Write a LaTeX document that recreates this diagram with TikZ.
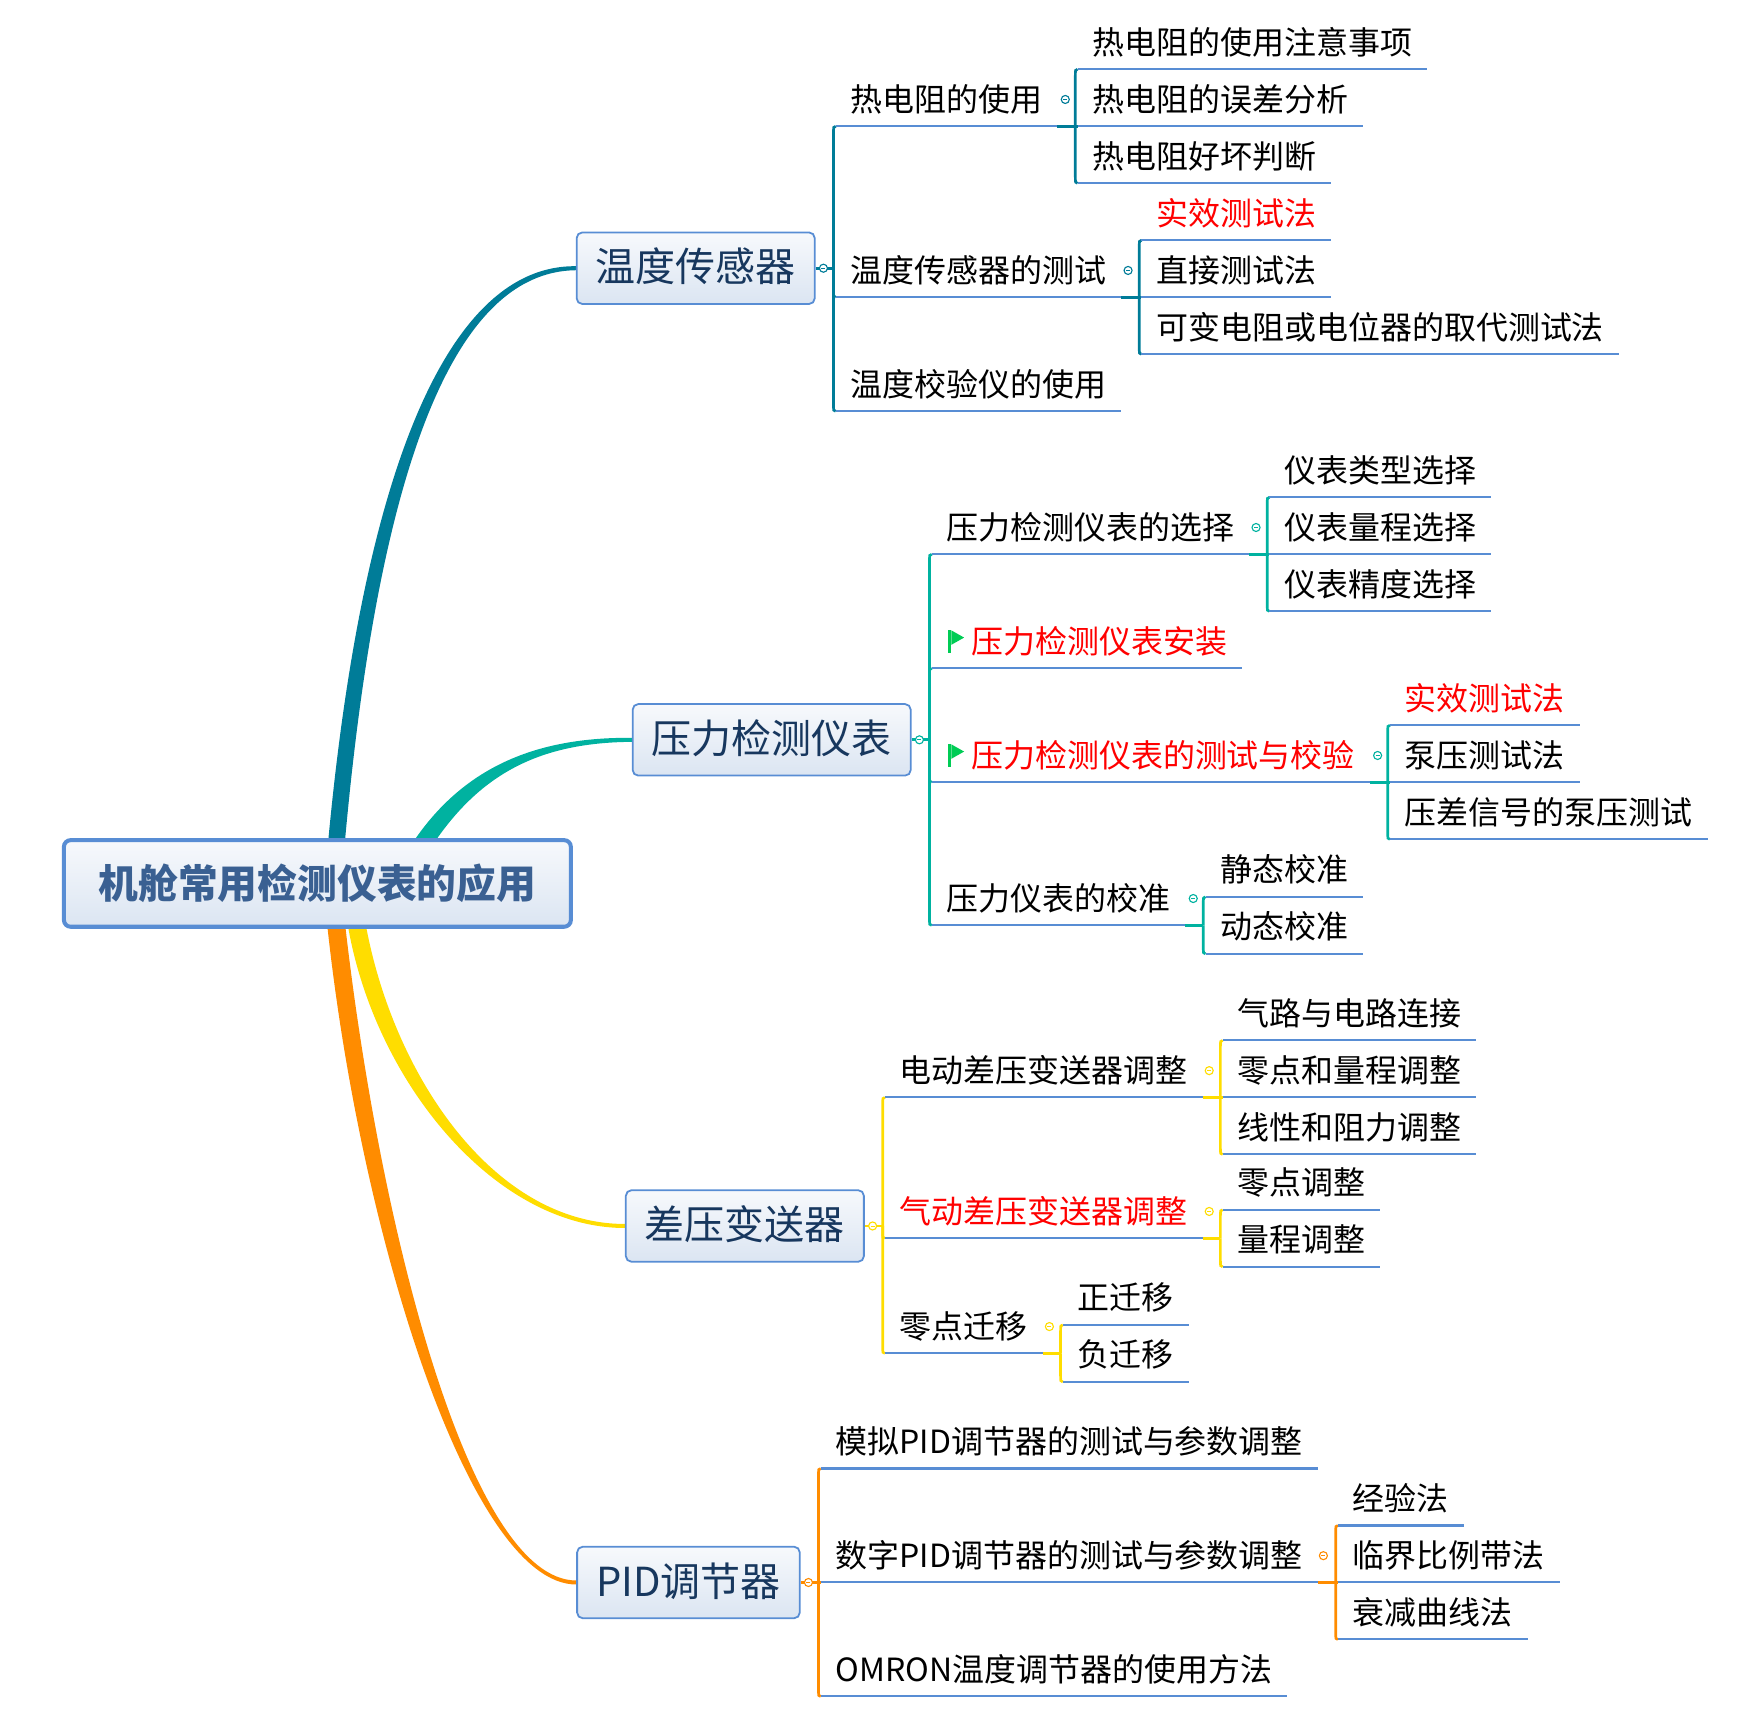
\documentclass[tikz,border=0pt]{standalone}
\usepackage{fontspec}
\setmainfont{Noto Sans CJK SC}
\usepackage{xcolor}
\usepackage{tikz}
\usetikzlibrary{calc, positioning, backgrounds}

\definecolor{tealblue}{RGB}{0,124,152}
\definecolor{tealgreen}{RGB}{0,178,160}
\definecolor{sunyellow}{RGB}{255,221,0}
\definecolor{deeporange}{RGB}{255,140,0}
\definecolor{lineblue}{RGB}{88,141,212}
\definecolor{boxblue}{RGB}{88,141,212}
\definecolor{boxtop}{RGB}{247,249,252}
\definecolor{boxbot}{RGB}{219,229,242}
\definecolor{topictext}{RGB}{23,55,94}
\definecolor{roottext}{RGB}{58,96,146}
\definecolor{hotred}{RGB}{255,0,0}
\definecolor{flaggreen}{RGB}{0,204,85}

\newcommand{\rootfont}{\fontsize{17.8}{21}\selectfont\bfseries}
\newcommand{\topicfont}{\fontsize{17.9}{21}\selectfont}
\newcommand{\subfont}{\fontsize{14.3}{17}\selectfont}

\tikzstyle{uline} = [draw=lineblue, line width=0.9pt]
\tikzstyle{centralbox} = [rectangle, rounded corners=3pt, draw=boxblue, line width=1.8pt, top color=boxtop, bottom color=boxbot, text=roottext, font=\rootfont, inner xsep=15.5pt, minimum height=38.75pt, text height=14.2pt, text depth=1pt]
\tikzstyle{topicbox} = [rectangle, rounded corners=2.5pt, draw=boxblue, line width=0.8pt, top color=boxtop, bottom color=boxbot, text=topictext, font=\topicfont, inner xsep=8.5pt, minimum height=32pt, text height=13.3pt, text depth=1pt]
\tikzstyle{subtopic} = [anchor=south west, inner xsep=6.5pt, inner ysep=3.5pt, text height=10.5pt, text depth=3pt, font=\subfont, append after command={(\tikzlastnode.south west) edge[uline] (\tikzlastnode.south east)}]
\tikzstyle{redtopic} = [subtopic, text=hotred]

\tikzset{
  fold/.style={circle, draw=#1, fill=white, line width=0.5pt, minimum size=3.6pt, inner sep=0pt,
    path picture={\draw[#1, line width=0.4pt] ([xshift=0.9pt]path picture bounding box.west) -- ([xshift=-0.9pt]path picture bounding box.east);}},
  fork/.style={line width=1.2pt, to path={let \p1=(\tikztostart), \p2=(\tikztotarget),
    \n1={(\y1>\y2 ? 1 : -1)*min(4pt,abs(\y1-\y2))} in
    -- (\x1,{\y2+\n1}) .. controls (\x1,\y2) .. (\p2)}}
}

\begin{document}
\begin{tikzpicture}[x=0.5pt, y=-0.5pt]
\useasboundingbox (0,0) rectangle (1565,1552);

% Central topic
\node (root) [centralbox] at (284,790.5) {机舱常用检测仪表的应用};

% Main topics
\node (temp) [topicbox] at (622.5,240) {温度传感器};
\node (pres) [topicbox] at (690.5,662) {压力检测仪表};
\node (dp) [topicbox] at (666.5,1097) {差压变送器};
\node (pid) [topicbox] at (616,1416) {PID调节器};

\coordinate (j-temp) at ($(temp.east)+(16,0)$);
\coordinate (j-pres) at ($(pres.east)+(16,0)$);
\coordinate (j-dp) at ($(dp.east)+(16,0)$);
\coordinate (j-pid) at ($(pid.east)+(16,0)$);

% 温度传感器
\node (rtd) [subtopic] at ($(j-temp)+(2,-127)$) {热电阻的使用};
\node (ttest) [subtopic] at ($(j-temp)+(2,26)$) {温度传感器的测试};
\node (tcal) [subtopic] at ($(j-temp)+(2,128)$) {温度校验仪的使用};
\coordinate (j-rtd) at ($(rtd.south east)+(16,0)$);
\node (rtd1) [subtopic] at ($(j-rtd)+(2,-51)$) {热电阻的使用注意事项};
\node (rtd2) [subtopic] at ($(j-rtd)+(2,0)$) {热电阻的误差分析};
\node (rtd3) [subtopic] at ($(j-rtd)+(2,51)$) {热电阻好坏判断};
\coordinate (j-ttest) at ($(ttest.south east)+(16,0)$);
\node (tt1) [redtopic] at ($(j-ttest)+(2,-51)$) {实效测试法};
\node (tt2) [subtopic] at ($(j-ttest)+(2,0)$) {直接测试法};
\node (tt3) [subtopic] at ($(j-ttest)+(2,51)$) {可变电阻或电位器的取代测试法};

% 压力检测仪表
\node (psel) [subtopic] at ($(j-pres)+(2,-166)$) {压力检测仪表的选择};
\node (pinst) [redtopic] at ($(j-pres)+(2,-64)$) {\hspace*{11pt}压力检测仪表安装};
\node (ptest) [redtopic] at ($(j-pres)+(2,38)$) {\hspace*{11pt}压力检测仪表的测试与校验};
\node (pcal) [subtopic] at ($(j-pres)+(2,166)$) {压力仪表的校准};
\coordinate (j-psel) at ($(psel.south east)+(16,0)$);
\node (ps1) [subtopic] at ($(j-psel)+(2,-51)$) {仪表类型选择};
\node (ps2) [subtopic] at ($(j-psel)+(2,0)$) {仪表量程选择};
\node (ps3) [subtopic] at ($(j-psel)+(2,51)$) {仪表精度选择};
\coordinate (j-ptest) at ($(ptest.south east)+(16,0)$);
\node (pt1) [redtopic] at ($(j-ptest)+(2,-51)$) {实效测试法};
\node (pt2) [subtopic] at ($(j-ptest)+(2,0)$) {泵压测试法};
\node (pt3) [subtopic] at ($(j-ptest)+(2,51)$) {压差信号的泵压测试};
\coordinate (j-pcal) at ($(pcal.south east)+(16,0)$);
\node (pc1) [subtopic] at ($(j-pcal)+(2,-25.5)$) {静态校准};
\node (pc2) [subtopic] at ($(j-pcal)+(2,25.5)$) {动态校准};

% 差压变送器
\node (dele) [subtopic] at ($(j-dp)+(2,-115)$) {电动差压变送器调整};
\node (dpn) [redtopic] at ($(j-dp)+(2,11)$) {气动差压变送器调整};
\node (dzero) [subtopic] at ($(j-dp)+(2,114)$) {零点迁移};
\coordinate (j-dele) at ($(dele.south east)+(16,0)$);
\node (de1) [subtopic] at ($(j-dele)+(2,-51)$) {气路与电路连接};
\node (de2) [subtopic] at ($(j-dele)+(2,0)$) {零点和量程调整};
\node (de3) [subtopic] at ($(j-dele)+(2,51)$) {线性和阻力调整};
\coordinate (j-dpn) at ($(dpn.south east)+(16,0)$);
\node (dn1) [subtopic] at ($(j-dpn)+(2,-25.5)$) {零点调整};
\node (dn2) [subtopic] at ($(j-dpn)+(2,25.5)$) {量程调整};
\coordinate (j-dzero) at ($(dzero.south east)+(16,0)$);
\node (dz1) [subtopic] at ($(j-dzero)+(2,-25.5)$) {正迁移};
\node (dz2) [subtopic] at ($(j-dzero)+(2,25.5)$) {负迁移};

% PID调节器
\node (pana) [subtopic] at ($(j-pid)+(2,-102)$) {模拟PID调节器的测试与参数调整};
\node (pdig) [subtopic] at ($(j-pid)+(2,0)$) {数字PID调节器的测试与参数调整};
\node (pomr) [subtopic] at ($(j-pid)+(2,102)$) {OMRON温度调节器的使用方法};
\coordinate (j-pdig) at ($(pdig.south east)+(16,0)$);
\node (pg1) [subtopic] at ($(j-pdig)+(2,-51)$) {经验法};
\node (pg2) [subtopic] at ($(j-pdig)+(2,0)$) {临界比例带法};
\node (pg3) [subtopic] at ($(j-pdig)+(2,51)$) {衰减曲线法};

% Flags
\fill[flaggreen] ($(pinst.south west)+(15,-34)$) rectangle ($(pinst.south west)+(17.5,-14)$);
\fill[flaggreen] ($(pinst.south west)+(17.5,-34)$) -- ($(pinst.south west)+(29,-27.5)$) -- ($(pinst.south west)+(17.5,-21)$) -- cycle;
\fill[flaggreen] ($(ptest.south west)+(15,-34)$) rectangle ($(ptest.south west)+(17.5,-14)$);
\fill[flaggreen] ($(ptest.south west)+(17.5,-34)$) -- ($(ptest.south west)+(29,-27.5)$) -- ($(ptest.south west)+(17.5,-21)$) -- cycle;

% Collapse markers
\node (f-temp) [fold=tealblue] at ($(temp.east)+(7,0)$) {};
\node (f-pres) [fold=tealgreen] at ($(pres.east)+(7,0)$) {};
\node (f-dp) [fold=sunyellow] at ($(dp.east)+(7,0)$) {};
\node (f-pid) [fold=deeporange] at ($(pid.east)+(7,0)$) {};
\node (f-rtd) [fold=tealblue] at ($(rtd.south east)+(7,-24)$) {};
\node (f-ttest) [fold=tealblue] at ($(ttest.south east)+(6,-24)$) {};
\node (f-psel) [fold=tealgreen] at ($(psel.south east)+(6,-24)$) {};
\node (f-ptest) [fold=tealgreen] at ($(ptest.south east)+(7,-24)$) {};
\node (f-pcal) [fold=tealgreen] at ($(pcal.south east)+(7,-24)$) {};
\node (f-dele) [fold=sunyellow] at ($(dele.south east)+(6,-24)$) {};
\node (f-dpn) [fold=sunyellow] at ($(dpn.south east)+(6,-24)$) {};
\node (f-dzero) [fold=sunyellow] at ($(dzero.south east)+(6,-24)$) {};
\node (f-pdig) [fold=deeporange] at ($(pdig.south east)+(5,-24)$) {};

\begin{scope}[on background layer]
% Main branches
\fill[tealblue] ($(root.north)+(9,10)$) .. controls (323,430) and (398,237) .. ($(temp.west)+(0,-1.8)$)
  -- ($(temp.west)+(0,1.8)$) .. controls (402,243) and (337,432) .. ($(root.north)+(24,10)$) -- cycle;
\fill[tealgreen] ($(root.north)+(84,6)$) .. controls (414,686) and (480,659.5) .. ($(pres.west)+(0,-1.8)$)
  -- ($(pres.west)+(0,1.8)$) .. controls (480,664.5) and (426,694) .. ($(root.north)+(98,14)$) -- cycle;
\fill[sunyellow] ($(root.south)+(26,-11)$) .. controls (331,962) and (440,1098.8) .. ($(dp.west)+(0,1.8)$)
  -- ($(dp.west)+(0,-1.8)$) .. controls (440,1095.2) and (349,958) .. ($(root.south)+(42,-11)$) -- cycle;
\fill[deeporange] ($(root.south)+(8,-11)$) .. controls (321,1102) and (420,1417.8) .. ($(pid.west)+(0,1.8)$)
  -- ($(pid.west)+(0,-1.8)$) .. controls (420,1414.2) and (339,1098) .. ($(root.south)+(24,-11)$) -- cycle;

% 温度传感器
\draw[tealblue, line width=1.2pt] (temp.east) -- (j-temp);
\draw[tealblue, fork] (j-temp) to (rtd.south west);
\draw[tealblue, fork] (j-temp) to (ttest.south west);
\draw[tealblue, fork] (j-temp) to (tcal.south west);
\draw[tealblue, line width=1.5pt] (rtd.south east) -- (rtd2.south west);
\draw[tealblue, fork] (j-rtd) to (rtd1.south west);
\draw[tealblue, fork] (j-rtd) to (rtd3.south west);
\draw[tealblue, line width=1.5pt] (ttest.south east) -- (tt2.south west);
\draw[tealblue, fork] (j-ttest) to (tt1.south west);
\draw[tealblue, fork] (j-ttest) to (tt3.south west);

% 压力检测仪表
\draw[tealgreen, line width=1.2pt] (pres.east) -- (j-pres);
\draw[tealgreen, fork] (j-pres) to (psel.south west);
\draw[tealgreen, fork] (j-pres) to (pinst.south west);
\draw[tealgreen, fork] (j-pres) to (ptest.south west);
\draw[tealgreen, fork] (j-pres) to (pcal.south west);
\draw[tealgreen, line width=1.5pt] (psel.south east) -- (ps2.south west);
\draw[tealgreen, fork] (j-psel) to (ps1.south west);
\draw[tealgreen, fork] (j-psel) to (ps3.south west);
\draw[tealgreen, line width=1.5pt] (ptest.south east) -- (pt2.south west);
\draw[tealgreen, fork] (j-ptest) to (pt1.south west);
\draw[tealgreen, fork] (j-ptest) to (pt3.south west);
\draw[tealgreen, line width=1.5pt] (pcal.south east) -- (j-pcal);
\draw[tealgreen, fork] (j-pcal) to (pc1.south west);
\draw[tealgreen, fork] (j-pcal) to (pc2.south west);

% 差压变送器
\draw[sunyellow, line width=1.2pt] (dp.east) -- (j-dp);
\draw[sunyellow, fork] (j-dp) to (dele.south west);
\draw[sunyellow, fork] (j-dp) to (dpn.south west);
\draw[sunyellow, fork] (j-dp) to (dzero.south west);
\draw[sunyellow, line width=1.5pt] (dele.south east) -- (de2.south west);
\draw[sunyellow, fork] (j-dele) to (de1.south west);
\draw[sunyellow, fork] (j-dele) to (de3.south west);
\draw[sunyellow, line width=1.5pt] (dpn.south east) -- (j-dpn);
\draw[sunyellow, fork] (j-dpn) to (dn1.south west);
\draw[sunyellow, fork] (j-dpn) to (dn2.south west);
\draw[sunyellow, line width=1.5pt] (dzero.south east) -- (j-dzero);
\draw[sunyellow, fork] (j-dzero) to (dz1.south west);
\draw[sunyellow, fork] (j-dzero) to (dz2.south west);

% PID调节器
\draw[deeporange, line width=1.2pt] (pid.east) -- (pdig.south west);
\draw[deeporange, fork] (j-pid) to (pana.south west);
\draw[deeporange, fork] (j-pid) to (pomr.south west);
\draw[deeporange, line width=1.5pt] (pdig.south east) -- (pg2.south west);
\draw[deeporange, fork] (j-pdig) to (pg1.south west);
\draw[deeporange, fork] (j-pdig) to (pg3.south west);
\end{scope}

\end{tikzpicture}
\end{document}
